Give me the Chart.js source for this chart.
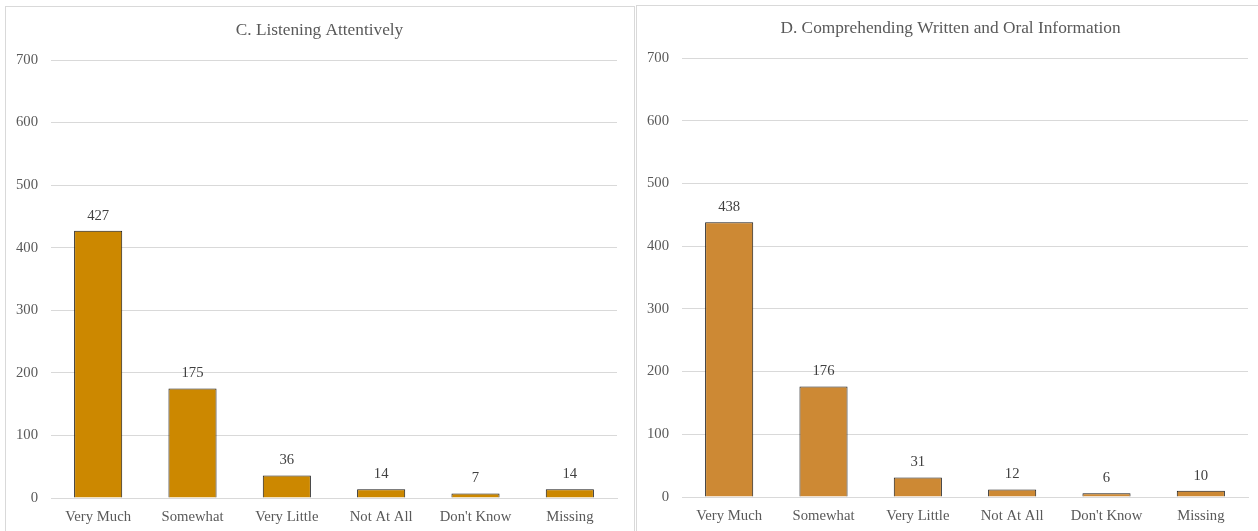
<!DOCTYPE html>
<html>
<head>
<meta charset="utf-8">
<script src="https://cdn.jsdelivr.net/npm/chart.js@4/dist/chart.umd.min.js"></script>
<style>
  html, body { margin: 0; padding: 0; background: #fff; overflow: hidden; width: 1258px; height: 531px; }
  .box { position: absolute; border: 1px solid #d9d9d9; box-sizing: border-box; }
  canvas { position: absolute; }
</style>
</head>
<body>
<div class="box" style="left:5px; top:6px; width:630px; height:540px;"></div>
<div class="box" style="left:636px; top:5px; width:640px; height:540px;"></div>
<canvas id="c1" width="627" height="524" style="left:6px; top:7px;"></canvas>
<canvas id="c2" width="621" height="525" style="left:637px; top:6px;"></canvas>
<script>
const categories = ["Very Much", "Somewhat", "Very Little", "Not At All", "Don't Know", "Missing"];
const listeningValues = [427, 175, 36, 14, 7, 14];
const comprehendingValues = [438, 176, 31, 12, 6, 10];
const yMax = 700;
const yStep = 100;
const titleLeft = "C. Listening Attentively";
const titleRight = "D. Comprehending Written and Oral Information";

const FONT = "'Liberation Serif', 'Times New Roman', serif";

const dataLabels = {
  id: 'dataLabels',
  afterDatasetsDraw(chart) {
    const ctx = chart.ctx;
    ctx.save();
    ctx.font = "14.7px " + FONT;
    ctx.fillStyle = "#404040";
    ctx.textAlign = "center";
    ctx.textBaseline = "middle";
    chart.data.datasets.forEach((ds, i) => {
      const meta = chart.getDatasetMeta(i);
      meta.data.forEach((bar, j) => {
        ctx.fillText(String(ds.data[j]), bar.x, bar.y - 15);
      });
    });
    ctx.restore();
  }
};

const centeredTitle = {
  id: 'centeredTitle',
  afterDraw(chart, args, opts) {
    const ctx = chart.ctx;
    ctx.save();
    ctx.font = "17.3px " + FONT;
    ctx.fillStyle = "#595959";
    ctx.textAlign = "center";
    ctx.textBaseline = "middle";
    ctx.fillText(opts.text, chart.width / 2 + (opts.dx || 0), opts.y);
    ctx.restore();
  }
};

function makeChart(id, title, values, color, opts) {
  return new Chart(document.getElementById(id), {
    type: 'bar',
    data: {
      labels: categories,
      datasets: [{
        data: values,
        backgroundColor: color,
        borderColor: '#1a1a1a',
        borderWidth: 1,
        barPercentage: 0.51,
        categoryPercentage: 1.0
      }]
    },
    options: {
      responsive: false,
      animation: false,
      devicePixelRatio: 1,
      layout: { padding: { left: 0, right: opts.rightPad, top: opts.topPad, bottom: 0 } },
      plugins: {
        legend: { display: false },
        tooltip: { enabled: false },
        title: { display: false },
        centeredTitle: { text: title, y: opts.titleY, dx: opts.titleDx }
      },
      scales: {
        x: {
          grid: { display: false, drawTicks: false },
          border: { display: true, color: '#d9d9d9', width: 1 },
          ticks: { color: '#595959', font: { family: FONT, size: 14.7 }, padding: 10, maxRotation: 0 },
          afterFit(scale) { scale.height = opts.xHeight; }
        },
        y: {
          min: 0,
          max: yMax,
          ticks: { stepSize: yStep, color: '#595959', font: { family: FONT, size: 14.7 }, padding: 13 },
          grid: { color: '#d9d9d9', drawTicks: false, lineWidth: 1 },
          border: { display: false },
          afterFit(scale) { scale.width = 45; }
        }
      }
    },
    plugins: [dataLabels, centeredTitle]
  });
}

makeChart('c1', titleLeft, listeningValues, '#cc8800', { rightPad: 16, topPad: 53, titleY: 23, titleDx: 0, xHeight: 33 });
makeChart('c2', titleRight, comprehendingValues, '#cd8934', { rightPad: 10, topPad: 52, titleY: 22, titleDx: 3, xHeight: 34 });
</script>
</body>
</html>
